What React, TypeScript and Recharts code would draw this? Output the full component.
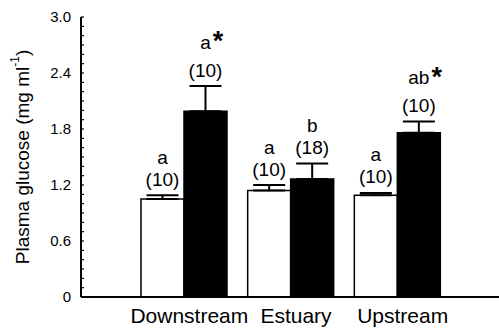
import React from "react"
import { Bar, BarChart, XAxis, YAxis, ErrorBar, LabelList, Label } from "recharts"

const sites = ["Downstream", "Estuary", "Upstream"]
const controlMeans = [1.05, 1.14, 1.09]
const controlErr = [0.04, 0.06, 0.025]
const treatedMeans = [1.99, 1.265, 1.76]
const treatedErr = [0.27, 0.165, 0.12]
const controlLetters = ["a", "a", "a"]
const controlN = [10, 10, 10]
const treatedLetters = ["a*", "b", "ab*"]
const treatedN = [10, 18, 10]
const yMajorTicks = [0, 0.6, 1.2, 1.8, 2.4, 3.0]
const yAllTicks = [
    0, 0.1, 0.2, 0.3, 0.4, 0.5, 0.6, 0.7, 0.8, 0.9, 1.0, 1.1, 1.2, 1.3, 1.4, 1.5,
    1.6, 1.7, 1.8, 1.9, 2.0, 2.1, 2.2, 2.3, 2.4, 2.5, 2.6, 2.7, 2.8, 2.9, 3.0,
]

const data = sites.map((site, i) => ({
    site,
    control: controlMeans[i],
    controlErr: [0, controlErr[i]],
    treated: treatedMeans[i],
    treatedErr: [0, treatedErr[i]],
}))

const FONT = "'Liberation Sans', Arial, sans-serif"

const YTick = ({ x, y, payload }: any) => {
    const v = payload.value
    const isMajor = yMajorTicks.some((t) => Math.abs(t - v) < 1e-6)
    return (
        <g>
            <line x1={x} x2={x + 3} y1={y} y2={y} stroke="#000" strokeWidth={1.2} />
            {isMajor && (
                <text x={x - 10} y={y} dy={5} textAnchor="end" fontSize={15} fontFamily={FONT} fill="#000">
                    {v === 0 ? "0" : v.toFixed(1)}
                </text>
            )}
        </g>
    )
}

const makeGroupLabel = (letters: string[], ns: number[], errs: number[], means: number[]) =>
    (props: any) => {
        const vb = props.viewBox ?? props
        const x = Number(vb.x)
        const y = Number(vb.y)
        const width = Number(vb.width)
        const height = Number(vb.height)
        const i = props.index
        if (i == null || isNaN(y)) return null
        const cx = x + width / 2
        const errTop = y - (errs[i] / means[i]) * height
        const letter = letters[i]
        const star = letter.endsWith("*")
        const base = star ? letter.slice(0, -1) : letter
        const nY = errTop - 16
        const letterY = nY - (star ? 28 : 22)
        return (
            <g fontFamily={FONT} fill="#000">
                <text x={cx} y={nY} dy={6.5} textAnchor="middle" fontSize={19}>
                    ({ns[i]})
                </text>
                <text x={cx} y={letterY} dy={6.5} textAnchor="middle" fontSize={19}>
                    {base}
                </text>
                {star && (
                    <text x={cx + base.length * 5.3 + 2} y={letterY} dy={8} textAnchor="start" fontSize={27} fontWeight="bold">
                        *
                    </text>
                )}
            </g>
        )
    }

const YLabel = ({ viewBox }: any) => {
    const cy = viewBox.y + viewBox.height / 2
    const cx = 22
    return (
        <text
            x={cx}
            y={cy}
            transform={`rotate(-90, ${cx}, ${cy})`}
            textAnchor="middle"
            dominantBaseline="central"
            fontSize={19}
            fontFamily={FONT}
            fill="#000"
        >
            Plasma glucose (mg ml
            <tspan fontSize={12} dy={-7}>-1</tspan>
            <tspan dy={7}>)</tspan>
        </text>
    )
}

export default function App() {
    return (
        <div style={{ position: "absolute", left: 0, top: 0, width: 499, height: 328, background: "#fff" }}>
            <BarChart
                width={499}
                height={328}
                data={data}
                margin={{ top: 17, right: 0, bottom: 0, left: 21 }}
                barGap={0}
                barSize={43}
            >
                <XAxis
                    dataKey="site"
                    padding={{ left: 50, right: 48 }}
                    axisLine={{ stroke: "#000", strokeWidth: 2 }}
                    tickLine={false}
                    height={31}
                    tick={{ fontSize: 21, fontFamily: FONT, fill: "#000", dx: 5 }}
                    tickMargin={5}
                    interval={0}
                />
                <YAxis
                    width={60}
                    domain={[0, 3]}
                    ticks={yAllTicks}
                    interval={0}
                    tickSize={0}
                    tickMargin={0}
                    tickLine={false}
                    axisLine={{ stroke: "#000", strokeWidth: 2 }}
                    tick={<YTick />}
                    allowDecimals
                >
                    <Label content={<YLabel />} />
                </YAxis>
                <Bar dataKey="control" fill="#fff" stroke="#000" strokeWidth={1.5} isAnimationActive={false}>
                    <ErrorBar dataKey="controlErr" width={16} stroke="#000" strokeWidth={2} direction="y" />
                    <LabelList content={makeGroupLabel(controlLetters, controlN, controlErr, controlMeans)} />
                </Bar>
                <Bar dataKey="treated" fill="#000" stroke="#000" strokeWidth={1.5} isAnimationActive={false}>
                    <ErrorBar dataKey="treatedErr" width={16} stroke="#000" strokeWidth={2} direction="y" />
                    <LabelList content={makeGroupLabel(treatedLetters, treatedN, treatedErr, treatedMeans)} />
                </Bar>
            </BarChart>
        </div>
    )
}
